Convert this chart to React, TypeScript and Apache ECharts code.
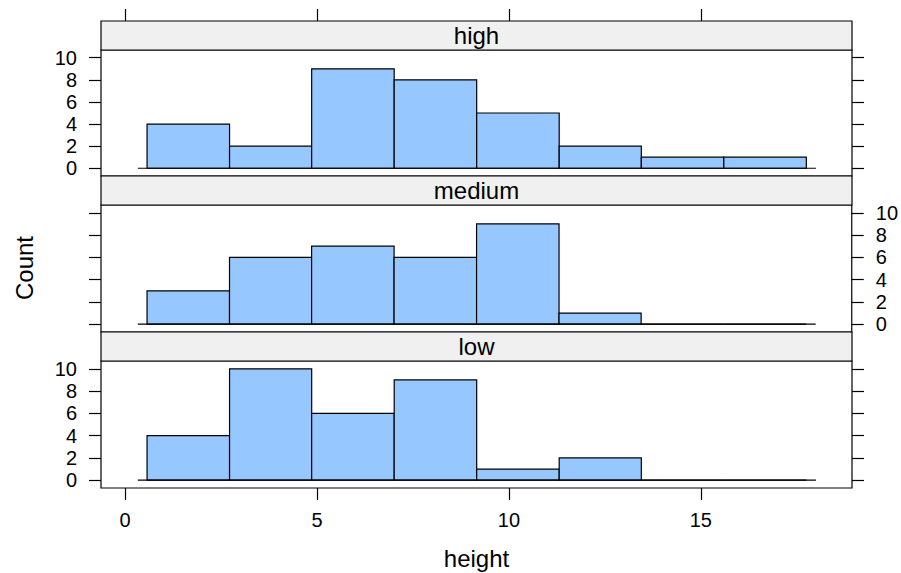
import React, { useEffect, useRef } from "react";
import * as echarts from "echarts";

// ---- data ----
const binEdges = [0.57, 2.72, 4.86, 7.01, 9.16, 11.31, 13.45, 15.6, 17.75];
const panelNames = ["high", "medium", "low"];
const highCounts = [4, 2, 9, 8, 5, 2, 1, 1];
const mediumCounts = [3, 6, 7, 6, 9, 1, 0, 0];
const lowCounts = [4, 10, 6, 9, 1, 2, 0, 0];
const baselineRange = [0.33, 18.0];
const xTicks = [0, 5, 10, 15];
const yTicks = [0, 2, 4, 6, 8, 10];
const xLimits = [-0.63, 18.94];
const yLimits = [-0.7, 10.7];

const FONT = "Liberation Sans, Arial, Helvetica, sans-serif";
const BAR_FILL = "#96C8FF";
const STRIP_FILL = "#F0F0F0";
const LINE_W = 1.2;
const TICK_FONT = 20;
const TITLE_FONT = 24;

const PANEL_LEFT = 101;
const PANEL_WIDTH = 751;
// [stripTop, panelTop, panelHeight]
const layout = [
  [21, 50, 126],
  [176, 205, 127],
  [332, 361, 127],
];

function toBins(counts: number[]) {
  return counts.map((c, i) => [binEdges[i], binEdges[i + 1], c]);
}

export default function App() {
  const ref = useRef<HTMLDivElement>(null);

  useEffect(() => {
    if (!ref.current) return;
    const chart = echarts.init(ref.current, undefined, { renderer: "svg" });
    const allCounts = [highCounts, mediumCounts, lowCounts];

    const grids = layout.map(([, top, h]) => ({
      left: PANEL_LEFT,
      top,
      width: PANEL_WIDTH,
      height: h,
      show: true,
      borderColor: "#000",
      borderWidth: LINE_W,
      backgroundColor: "transparent",
    }));

    const tickStyle = { color: "#000", width: LINE_W };
    const labelStyle = { color: "#000", fontSize: TICK_FONT, fontFamily: FONT };

    const xAxes: any[] = [
      {
        gridIndex: 0,
        type: "value",
        position: "top",
        offset: 29,
        min: xLimits[0],
        max: xLimits[1],
        axisLine: { show: false, onZero: false },
        axisTick: { show: true, inside: false, length: 12, lineStyle: tickStyle, customValues: xTicks },
        axisLabel: { show: false },
        splitLine: { show: false },
      },
      {
        gridIndex: 1,
        type: "value",
        min: xLimits[0],
        max: xLimits[1],
        show: false,
        axisLine: { onZero: false },
        splitLine: { show: false },
      },
      {
        gridIndex: 2,
        type: "value",
        position: "bottom",
        min: xLimits[0],
        max: xLimits[1],
        axisLine: { show: false, onZero: false },
        axisTick: { show: true, inside: false, length: 12, lineStyle: tickStyle, customValues: xTicks },
        axisLabel: { show: true, ...labelStyle, margin: 22, customValues: xTicks },
        splitLine: { show: false },
      },
    ];

    const yAxes: any[] = [];
    [0, 1, 2].forEach((g) => {
      const labelSide = g === 1 ? "right" : "left";
      ["left", "right"].forEach((side) => {
        yAxes.push({
          gridIndex: g,
          type: "value",
          position: side,
          min: yLimits[0],
          max: yLimits[1],
          axisLine: { show: false, onZero: false },
          axisTick: { show: true, inside: false, length: 12, lineStyle: tickStyle, customValues: yTicks },
          axisLabel:
            side === labelSide
              ? { show: true, ...labelStyle, margin: 24, customValues: yTicks }
              : { show: false },
          splitLine: { show: false },
        });
      });
    });

    const series: any[] = [];
    allCounts.forEach((counts, g) => {
      series.push({
        type: "custom",
        xAxisIndex: g,
        yAxisIndex: g * 2,
        data: toBins(counts),
        encode: { x: [0, 1], y: 2 },
        renderItem: (_params: any, api: any) => {
          const x0 = api.value(0);
          const x1 = api.value(1);
          const c = api.value(2);
          const p0 = api.coord([x0, c]);
          const p1 = api.coord([x1, 0]);
          return {
            type: "rect",
            shape: { x: p0[0], y: p0[1], width: p1[0] - p0[0], height: p1[1] - p0[1] },
            style: { fill: BAR_FILL, stroke: "#000", lineWidth: LINE_W },
          };
        },
        z: 2,
      });
      series.push({
        type: "line",
        xAxisIndex: g,
        yAxisIndex: g * 2,
        data: [
          [baselineRange[0], 0],
          [baselineRange[1], 0],
        ],
        symbol: "none",
        lineStyle: { color: "#000", width: LINE_W },
        z: 3,
      });
    });

    const graphics: any[] = [];
    layout.forEach(([stripTop, panelTop], i) => {
      graphics.push({
        type: "rect",
        shape: { x: PANEL_LEFT, y: stripTop, width: PANEL_WIDTH, height: panelTop - stripTop },
        style: { fill: STRIP_FILL, stroke: "#000", lineWidth: LINE_W },
        z: 10,
      });
      graphics.push({
        type: "text",
        x: PANEL_LEFT + PANEL_WIDTH / 2,
        y: (stripTop + panelTop) / 2,
        style: {
          text: panelNames[i],
          fill: "#000",
          fontSize: TITLE_FONT,
          fontFamily: FONT,
          align: "center",
          verticalAlign: "middle",
        },
        z: 11,
      });
    });
    graphics.push({
      type: "text",
      x: 24,
      y: 268,
      rotation: Math.PI / 2,
      style: {
        text: "Count",
        fill: "#000",
        fontSize: TITLE_FONT,
        fontFamily: FONT,
        align: "center",
        verticalAlign: "middle",
      },
    });
    graphics.push({
      type: "text",
      x: PANEL_LEFT + PANEL_WIDTH / 2,
      y: 558,
      style: {
        text: "height",
        fill: "#000",
        fontSize: TITLE_FONT,
        fontFamily: FONT,
        align: "center",
        verticalAlign: "middle",
      },
    });

    chart.setOption({
      animation: false,
      backgroundColor: "#fff",
      grid: grids,
      xAxis: xAxes,
      yAxis: yAxes,
      series,
      graphic: graphics,
    });

    return () => chart.dispose();
  }, []);

  return (
    <div
      ref={ref}
      style={{ position: "absolute", left: 0, top: 0, width: 901, height: 573 }}
    />
  );
}
